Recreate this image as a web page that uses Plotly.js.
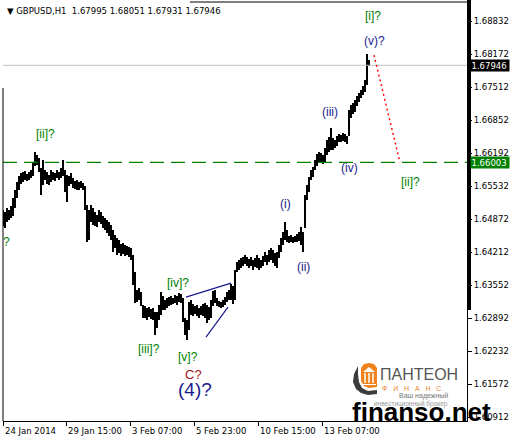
<!DOCTYPE html>
<html>
<head>
<meta charset="utf-8">
<script src="https://cdn.plot.ly/plotly-3.0.1.min.js"></script>
<style>html,body{margin:0;padding:0;background:#fff;}#chart{width:511px;height:439px;}</style>
</head>
<body>
<div id="chart"></div>
<script>
// ---- data (GBPUSD H1, 2-hour columns) ----
const symbol = 'GBPUSD,H1';
const lastOHLC = [1.67995, 1.68051, 1.67931, 1.67946];
const highs = [
1.6505,1.6501,1.6509,1.6505,1.6513,1.6529,1.6545,1.6561,1.6573,1.6579,
1.6581,1.6583,1.6577,1.6581,1.6585,1.6599,1.6621,1.6615,1.6609,1.6589,
1.6605,1.6585,1.6581,1.6575,1.6585,1.6581,1.6579,1.6585,1.6581,1.6589,
1.6605,1.6585,1.6575,1.6573,1.6579,1.6569,1.6563,1.6565,1.6561,1.6563,
1.6559,1.6553,1.6515,1.6505,1.6515,1.6509,1.6501,1.6495,1.6505,1.6501,
1.6493,1.6489,1.6485,1.6481,1.6475,1.6465,1.6455,1.6449,1.6445,1.6437,
1.6439,1.6435,1.6433,1.6431,1.6429,1.6415,1.6381,1.6345,1.6349,1.6341,
1.6315,1.6313,1.6309,1.6311,1.6307,1.6309,1.6301,1.6301,1.6315,1.6341,
1.6333,1.6325,1.6329,1.6331,1.6333,1.6329,1.6335,1.6333,1.6339,1.6337,
1.6329,1.6289,1.6285,1.6321,1.6325,1.6317,1.6313,1.6315,1.6309,1.6313,
1.6317,1.6319,1.6315,1.6311,1.6325,1.6343,1.6345,1.6329,1.6323,1.6321,
1.6325,1.6331,1.6341,1.6345,1.6357,1.6353,1.6385,1.6401,1.6405,1.6409,
1.6411,1.6415,1.6411,1.6407,1.6411,1.6405,1.6409,1.6415,1.6409,1.6405,
1.6413,1.6421,1.6415,1.6425,1.6429,1.6425,1.6419,1.6421,1.6435,1.6449,
1.6461,1.6481,1.6465,1.6453,1.6455,1.6451,1.6453,1.6457,1.6461,1.6471,
1.6461,1.6535,1.6555,1.6571,1.6585,1.6591,1.6605,1.6617,1.6621,1.6619,
1.6615,1.6629,1.6645,1.6651,1.6669,1.6649,1.6645,1.6653,1.6657,1.6655,
1.6659,1.6657,1.6653,1.6705,1.6715,1.6719,1.6725,1.6733,1.6739,1.6745,
1.6753,1.6765,1.6817,1.68051];
const lows = [
1.6473,1.6469,1.6481,1.6485,1.6489,1.6493,1.6509,1.6529,1.6545,1.6557,
1.6561,1.6565,1.6563,1.6565,1.6569,1.6573,1.6593,1.6595,1.6581,1.6535,
1.6555,1.6565,1.6557,1.6555,1.6561,1.6565,1.6563,1.6569,1.6565,1.6569,
1.6573,1.6541,1.6521,1.6553,1.6557,1.6549,1.6547,1.6545,1.6545,1.6549,
1.6545,1.6505,1.6441,1.6445,1.6481,1.6475,1.6473,1.6471,1.6481,1.6477,
1.6469,1.6465,1.6459,1.6453,1.6445,1.6421,1.6429,1.6415,1.6419,1.6413,
1.6417,1.6413,1.6415,1.6411,1.6405,1.6355,1.6319,1.6321,1.6325,1.6313,
1.6289,1.6289,1.6285,1.6291,1.6287,1.6285,1.6255,1.6269,1.6285,1.6295,
1.6305,1.6305,1.6309,1.6313,1.6315,1.6317,1.6319,1.6315,1.6321,1.6319,
1.6281,1.6255,1.6245,1.6265,1.6295,1.6293,1.6297,1.6293,1.6289,1.6295,
1.6293,1.6289,1.6279,1.6285,1.6289,1.6313,1.6319,1.6313,1.6311,1.6309,
1.6311,1.6315,1.6321,1.6325,1.6325,1.6317,1.6325,1.6381,1.6385,1.6389,
1.6393,1.6397,1.6393,1.6389,1.6393,1.6385,1.6391,1.6389,1.6385,1.6389,
1.6393,1.6401,1.6395,1.6401,1.6405,1.6399,1.6393,1.6389,1.6409,1.6421,
1.6435,1.6445,1.6441,1.6439,1.6441,1.6439,1.6441,1.6441,1.6443,1.6435,
1.6421,1.6469,1.6525,1.6541,1.6565,1.6571,1.6585,1.6593,1.6601,1.6599,
1.6597,1.6601,1.6615,1.6621,1.6625,1.6625,1.6629,1.6633,1.6641,1.6641,
1.6643,1.6641,1.6637,1.6653,1.6689,1.6697,1.6701,1.6713,1.6721,1.6729,
1.6735,1.6741,1.6755,1.67931];
const xTickHours = [1, 64, 128, 192, 256, 320];
const xTickLabels = ['24 Jan 2014','29 Jan 15:00','3 Feb 07:00','5 Feb 23:00','10 Feb 15:00','13 Feb 07:00'];
const yTicks = [1.68832,1.68172,1.67512,1.66852,1.66192,1.65532,1.64872,1.64212,1.63552,1.62892,1.62232,1.61572,1.60912];
const bidPrice = 1.67946;
const targetLevel = 1.66003;

// wave labels: text, hour, price, colour, size
const waveText  = ['?','[ii]?','[iii]?','[iv]?','[v]?','C?','(4)?','(i)','(ii)','(iii)','(iv)','(v)?','[i]?','[ii]?'];
const waveHour  = [4, 43, 147, 176, 186, 191, 193, 283, 301, 328, 347, 372, 371, 408];
const wavePrice = [1.6441, 1.6657, 1.6227, 1.6359, 1.6211, 1.6177, 1.6147, 1.6517, 1.6391, 1.6701, 1.6589, 1.6843, 1.6893, 1.6561];
const waveKind  = ['g','g','g','g','g','r','b','b','b','b','b','b','g','g'];

// trend lines (hour, price pairs)
const triUpper = [[184, 1.6331], [229, 1.6359]];
const triLower = [[204, 1.6251], [226, 1.6311]];
const projection = [[372, 1.6815], [398, targetLevel]];

// ---- drawing ----
const W = 511, H = 439, L = 3, R = 467, T = 2, B = 421;
const px = x => (x - L) / (R - L);
const py = y => (B - y) / (B - T);
const hours = highs.map((_, k) => 2 * k + 1);
const span = highs.map((h, k) => Math.max(h - lows[k], 0.00018));

const colors = {g: '#008000', b: '#1a1a8e', r: '#a01818'};
const sizes = {g: 12, b: 12, r: 13};

const annotations = [];
waveText.forEach((t, i) => {
  const k = waveKind[i];
  annotations.push({x: waveHour[i], y: wavePrice[i], xref: 'x', yref: 'y', text: t, showarrow: false,
    xanchor: 'center', yanchor: 'middle',
    font: {family: 'Liberation Sans, Arial', size: t === '(4)?' ? 19 : sizes[k], color: colors[k]}});
});
xTickHours.forEach((h, i) => {
  annotations.push({x: h, y: py(431), xref: 'x', yref: 'paper', text: xTickLabels[i], showarrow: false,
    xanchor: 'left', yanchor: 'middle', font: {family: 'DejaVu Sans', size: 8.5, color: '#000'}});
});
annotations.push({x: px(5), y: py(11), xref: 'paper', yref: 'paper', showarrow: false, xanchor: 'left', yanchor: 'middle',
  text: '▼ ' + symbol + '  ' + lastOHLC.map(v => v.toFixed(5)).join(' '), font: {family: 'DejaVu Sans', size: 8.5, color: '#000'}});
annotations.push({x: px(470), y: bidPrice, xref: 'paper', yref: 'y', showarrow: false, xanchor: 'left', yanchor: 'middle',
  text: bidPrice.toFixed(5), bgcolor: '#000', width: 37, height: 10, borderpad: 0.5, align: 'left',
  font: {family: 'DejaVu Sans', size: 8.5, color: '#fff'}});
annotations.push({x: px(470), y: targetLevel, xref: 'paper', yref: 'y', showarrow: false, xanchor: 'left', yanchor: 'middle',
  text: targetLevel.toFixed(5), bgcolor: '#008000', width: 37, height: 10, borderpad: 0.5, align: 'left',
  font: {family: 'DejaVu Sans', size: 8.5, color: '#fff'}});
// logo texts
annotations.push({x: px(378), y: py(374), xref: 'paper', yref: 'paper', showarrow: false, xanchor: 'left', yanchor: 'middle',
  text: 'ПАНТЕОН', font: {family: 'Liberation Sans, Noto Sans', size: 16, color: '#555'}});
annotations.push({x: px(380), y: py(388), xref: 'paper', yref: 'paper', showarrow: false, xanchor: 'left', yanchor: 'middle',
  text: 'Ф   И   Н   А   Н   С', font: {family: 'Liberation Sans', size: 7, color: '#e8862e'}});
annotations.push({x: px(450), y: py(396), xref: 'paper', yref: 'paper', showarrow: false, xanchor: 'right', yanchor: 'middle',
  text: 'Ваш надежный', font: {family: 'Liberation Sans', size: 7, color: '#777'}});
annotations.push({x: px(450), y: py(404), xref: 'paper', yref: 'paper', showarrow: false, xanchor: 'right', yanchor: 'middle',
  text: 'инвестиционный брокер', font: {family: 'Liberation Sans', size: 6.5, color: '#999'}});
annotations.push({x: px(421), y: py(412), xref: 'paper', yref: 'paper', showarrow: false, xanchor: 'center', yanchor: 'middle',
  text: '<b>finanso.net</b>', font: {family: 'Liberation Sans, Arial', size: 26, color: '#000'}});

const P = pts => pts.map((p, i) => (i ? 'L' : 'M') + px(p[0]).toFixed(4) + ',' + py(p[1]).toFixed(4)).join(' ') + ' Z';

const shapes = [
  {type: 'line', xref: 'paper', yref: 'y', x0: 0, x1: 1, y0: bidPrice, y1: bidPrice, line: {color: '#c0c0c0', width: 1}},
  {type: 'line', xref: 'paper', yref: 'y', x0: 0, x1: 1, y0: targetLevel, y1: targetLevel, line: {color: '#008000', width: 1.3, dash: '14px,7px'}},
  {type: 'line', xref: 'x', yref: 'y', x0: triUpper[0][0], y0: triUpper[0][1], x1: triUpper[1][0], y1: triUpper[1][1], line: {color: '#1a1a8e', width: 1.2}},
  {type: 'line', xref: 'x', yref: 'y', x0: triLower[0][0], y0: triLower[0][1], x1: triLower[1][0], y1: triLower[1][1], line: {color: '#1a1a8e', width: 1.2}},
  {type: 'line', xref: 'x', yref: 'y', x0: projection[0][0], y0: projection[0][1], x1: projection[1][0], y1: projection[1][1], line: {color: '#ff0000', width: 1.4, dash: '2px,3px'}},
  // frame pieces
  {type: 'line', xref: 'paper', yref: 'paper', x0: px(469), x1: px(469), y0: py(0), y1: py(310), line: {color: '#000', width: 4}},
  {type: 'line', xref: 'paper', yref: 'paper', x0: px(190), x1: 1, y0: 1, y1: 1, line: {color: '#000', width: 1}},
  {type: 'line', xref: 'paper', yref: 'paper', x0: 0, x1: 0, y0: py(88), y1: 0, line: {color: '#000', width: 1}},
  // logo icon
  {type: 'path', xref: 'paper', yref: 'paper', line: {width: 0}, fillcolor: '#3c3c3c',
   path: P([[358,366],[354,374],[353,382],[356,389],[361,393],[368,395],[377,394],[377,390],[368,391],[362,388],[359,382],[358,374]])},
  {type: 'path', xref: 'paper', yref: 'paper', line: {width: 0}, fillcolor: '#f0821e',
   path: P([[361,368],[364,364],[369,363],[374,364],[377,368],[377,387],[369,388],[364,386],[361,381]])},
  {type: 'path', xref: 'paper', yref: 'paper', line: {width: 0}, fillcolor: '#ffffff',
   path: P([[363,372],[369,367],[375,372]])}
];
[365, 369, 373].forEach(cx => shapes.push({type: 'line', xref: 'paper', yref: 'paper', x0: px(cx), x1: px(cx), y0: py(373), y1: py(383), line: {color: '#fff', width: 1.5}}));
shapes.push({type: 'line', xref: 'paper', yref: 'paper', x0: px(363), x1: px(376), y0: py(384.5), y1: py(384.5), line: {color: '#fff', width: 1}});

const trace = {
  type: 'bar', x: hours, y: span, base: lows, width: 2,
  marker: {color: '#000', line: {width: 0}}, hoverinfo: 'skip'
};

const layout = {
  width: W, height: H,
  margin: {l: L, r: W - R, t: T, b: H - B, pad: 0},
  paper_bgcolor: '#fff', plot_bgcolor: '#fff',
  showlegend: false,
  xaxis: {range: [1, 465], showgrid: false, zeroline: false, showline: true, linecolor: '#000', linewidth: 1,
    tickvals: xTickHours, ticks: 'outside', ticklen: 4, tickcolor: '#000', showticklabels: false, fixedrange: true},
  yaxis: {range: [1.60832, 1.69212], side: 'right', showgrid: false, zeroline: false, showline: true, linecolor: '#000', linewidth: 1,
    tickvals: yTicks, ticktext: yTicks.map(v => v.toFixed(5)), ticks: 'outside', ticklen: 4, tickcolor: '#000',
    tickfont: {family: 'DejaVu Sans', size: 8.5, color: '#000'}, fixedrange: true},
  annotations: annotations,
  shapes: shapes
};

Plotly.newPlot('chart', [trace], layout, {displayModeBar: false, staticPlot: true});
</script>
</body>
</html>
